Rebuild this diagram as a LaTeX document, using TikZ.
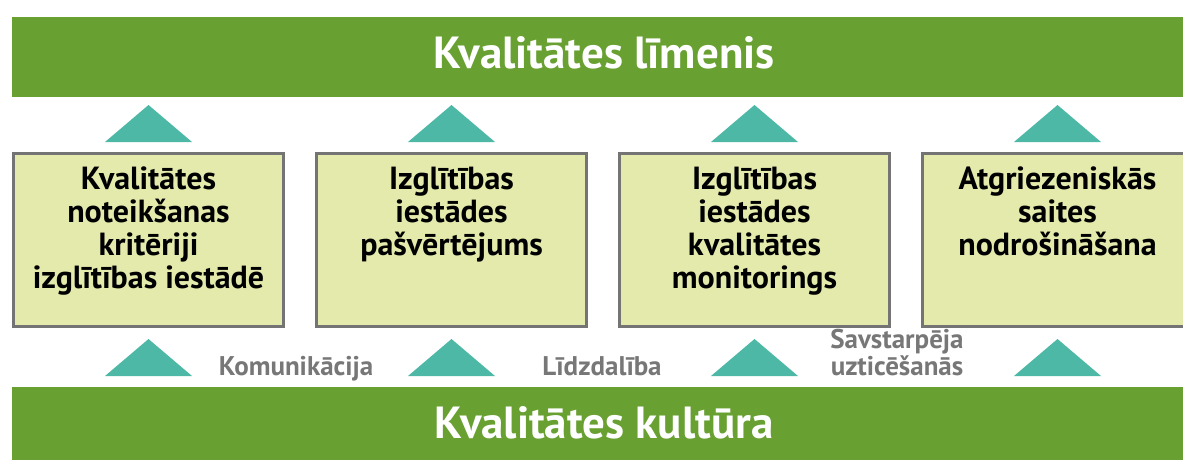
\documentclass[tikz,border=0pt]{standalone}
\usepackage{fontspec}
\setmainfont{PT Sans}
\usetikzlibrary{positioning}
\definecolor{barGreen}{HTML}{68A031}
\definecolor{boxFill}{HTML}{E4EAAB}
\definecolor{boxLine}{HTML}{747474}
\definecolor{triTeal}{HTML}{4DB8A6}
\definecolor{labelGray}{HTML}{777777}
\tikzstyle{bar} = [rectangle, fill=barGreen, text=white, font=\bfseries\fontsize{45}{47}\selectfont, minimum width=1184pt, minimum height=80pt, inner sep=0pt, text height=22pt, text depth=0pt]
\tikzstyle{stage} = [rectangle, draw=boxLine, line width=3pt, fill=boxFill, minimum width=270pt, minimum height=173pt, inner sep=0pt]
\tikzstyle{stagetext} = [align=center, font=\bfseries\fontsize{32}{33}\selectfont, inner sep=0pt, execute at begin node={\rule{0pt}{27pt}}]
\tikzstyle{arrowtri} = [fill=triTeal]
\tikzstyle{value} = [align=center, text=labelGray, font=\bfseries\fontsize{27}{22}\selectfont, inner sep=0pt, text height=16pt, anchor=north]

\begin{document}
\begin{tikzpicture}[x=1pt, y=-1pt]
\useasboundingbox (0,0) rectangle (1183,460);

%---------------------------------------------
% niveau bars
%---------------------------------------------
\node [bar] (limenis) at (604,57) {Kvalitātes līmenis};
\node [bar] (kultura) at (604,427) {Kvalitātes kultūra};

%---------------------------------------------
% the four boxes
%---------------------------------------------
\node [stage] (b1) at (148.5,240) {};
\node [stage, right=30pt of b1] (b2) {};
\node [stage, right=30pt of b2] (b3) {};
\node [stage, right=30pt of b3] (b4) {};

\node [stagetext, below=15pt of b1.north] (t1) {Kvalitātes\\noteikšanas\\kritēriji\\izglītības iestādē};
\node [stagetext, below=15pt of b2.north] (t2) {Izglītības\\iestādes\\pašvērtējums};
\node [stagetext, below=15pt of b3.north] (t3) {Izglītības\\iestādes\\kvalitātes\\monitorings};
\node [stagetext, below=15pt of b4.north] (t4) {Atgriezeniskās\\saites\\nodrošināšana};

%---------------------------------------------
% labels between the lower triangles
%---------------------------------------------
\node [value] (komunikacija) at (296,359) {Komunikācija};
\node [value] (lidzdaliba) at (602,359) {Līdzdalība};
\node [value] (uzticesanas) at (897,359) {Savstarpēja\\uzticēšanās};

%---------------------------------------------
% triangles up from the boxes
%---------------------------------------------
\foreach \b in {b1,b2,b3,b4} {
  \fill [arrowtri] (\b.north) ++(-43.5,-10) -- ++(43.5,-37) -- ++(43.5,37) -- cycle;
  \fill [arrowtri] (\b.south) ++(-43.5,48) -- ++(43.5,-37) -- ++(43.5,37) -- cycle;
}

\end{tikzpicture}
\end{document}
